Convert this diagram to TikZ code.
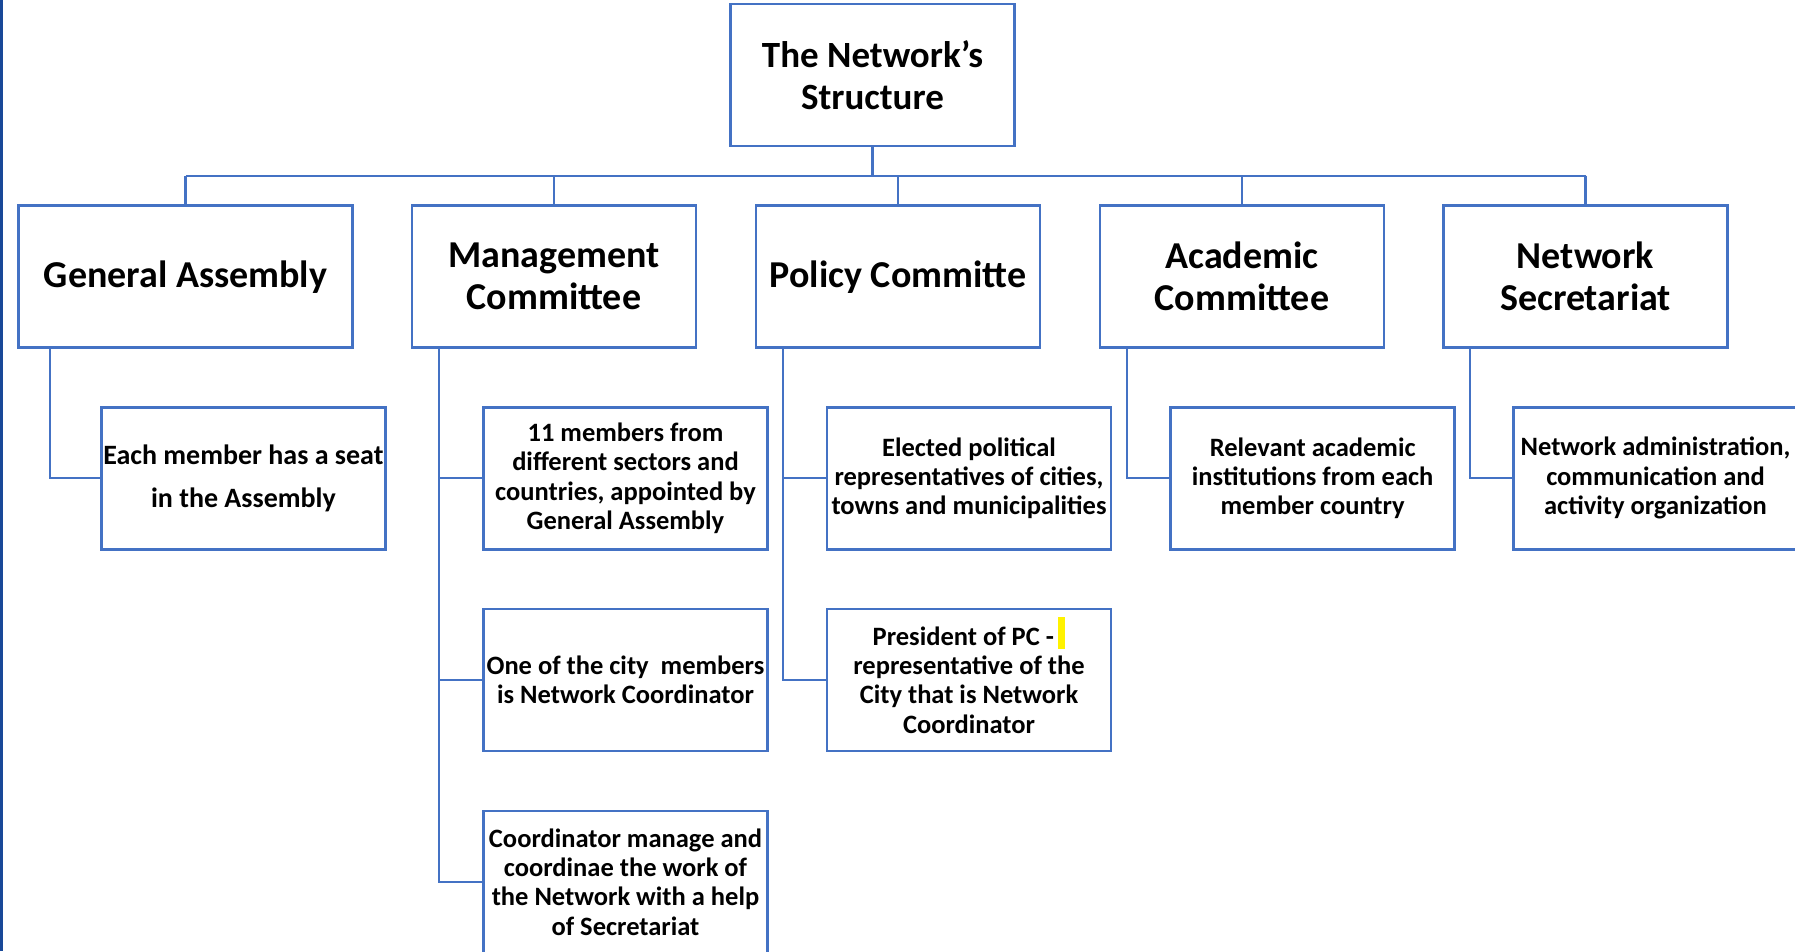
\documentclass[tikz,border=0pt]{standalone}
\usepackage{fontspec}
\setmainfont{Carlito}
\usepackage{tikz}
\definecolor{boxblue}{RGB}{68,114,196}
\definecolor{edgeblue}{RGB}{24,72,152}
\newcommand{\pchl}{\smash{\color{yellow}\rule[-3.5pt]{7pt}{32pt}}}

\begin{document}
\begin{tikzpicture}[x=1pt,y=-1pt,
    head/.style={draw=boxblue,line width=2.5pt,fill=white,minimum width=284pt,minimum height=142pt,
      inner sep=0pt,align=center,font=\fontsize{38}{42}\selectfont\bfseries},
    sub/.style={head,font=\fontsize{26.5}{29.4}\selectfont\bfseries},
    link/.style={draw=boxblue,line width=2.2pt}]
	\useasboundingbox (0,0) rectangle (1795,951);
	\clip (0,0) rectangle (1795,951);
	\draw [edgeblue,line width=2.6pt] (1.3,0) -- (1.3,951);

	% top and first level
	\node[head,font=\fontsize{37}{42}\selectfont\bfseries] (top) at (872.5,75) {The Network’s\\Structure};
	\node[head,minimum width=334pt] (ga) at (185.5,276.7) {General Assembly};
	\node[head] (mc) at (554,276.7) {Management\\Committee};
	\node[head] (pc) at (898,276.7) {Policy Committe};
	\node[head] (ac) at (1242,276.7) {Academic\\Committee};
	\node[head] (ns) at (1585.5,276.7) {Network\\Secretariat};

	% second level
	\node[sub,font=\fontsize{28}{43}\selectfont\bfseries] (ga1) at (243.4,478.3) {Each member has a seat\\in the Assembly};
	\node[sub] (mc1) at (625.5,478.3) {11 members from\\different sectors and\\countries, appointed by\\General Assembly};
	\node[sub] (mc2) at (625.5,680) {One of the city\ \ members\\is Network Coordinator};
	\node[sub] (mc3) at (625.5,882) {Coordinator manage and\\coordinae the work of\\the Network with a help\\of Secretariat};
	\node[sub] (pc1) at (969,478.3) {Elected political\\representatives of cities,\\towns and municipalities};
	\node[sub] (pc2) at (969,680) {President of PC -\,\pchl\\representative of the\\City that is Network\\Coordinator};
	\node[sub] (ac1) at (1312.7,478.3) {Relevant academic\\institutions from each\\member country};
	\node[sub] (ns1) at (1655.5,478.3) {Network administration,\\communication and\\activity organization};

	% connectors
	\coordinate (bus) at (0,175.7);
	\draw[link] (top.south) -- (top.south |- bus);
	\draw[link] (ga.north |- bus) -- (ns.north |- bus);
	\foreach \n in {ga,mc,pc,ac,ns}
		\draw[link] (\n.north |- bus) -- (\n.north);

	\draw[link] ([xshift=32.6pt]ga.south west) |- (ga1.west);
	\foreach \c in {mc1,mc2,mc3}
		\draw[link] ([xshift=28pt]mc.south west) |- (\c.west);
	\foreach \c in {pc1,pc2}
		\draw[link] ([xshift=28pt]pc.south west) |- (\c.west);
	\draw[link] ([xshift=28pt]ac.south west) |- (ac1.west);
	\draw[link] ([xshift=28pt]ns.south west) |- (ns1.west);
\end{tikzpicture}
\end{document}
